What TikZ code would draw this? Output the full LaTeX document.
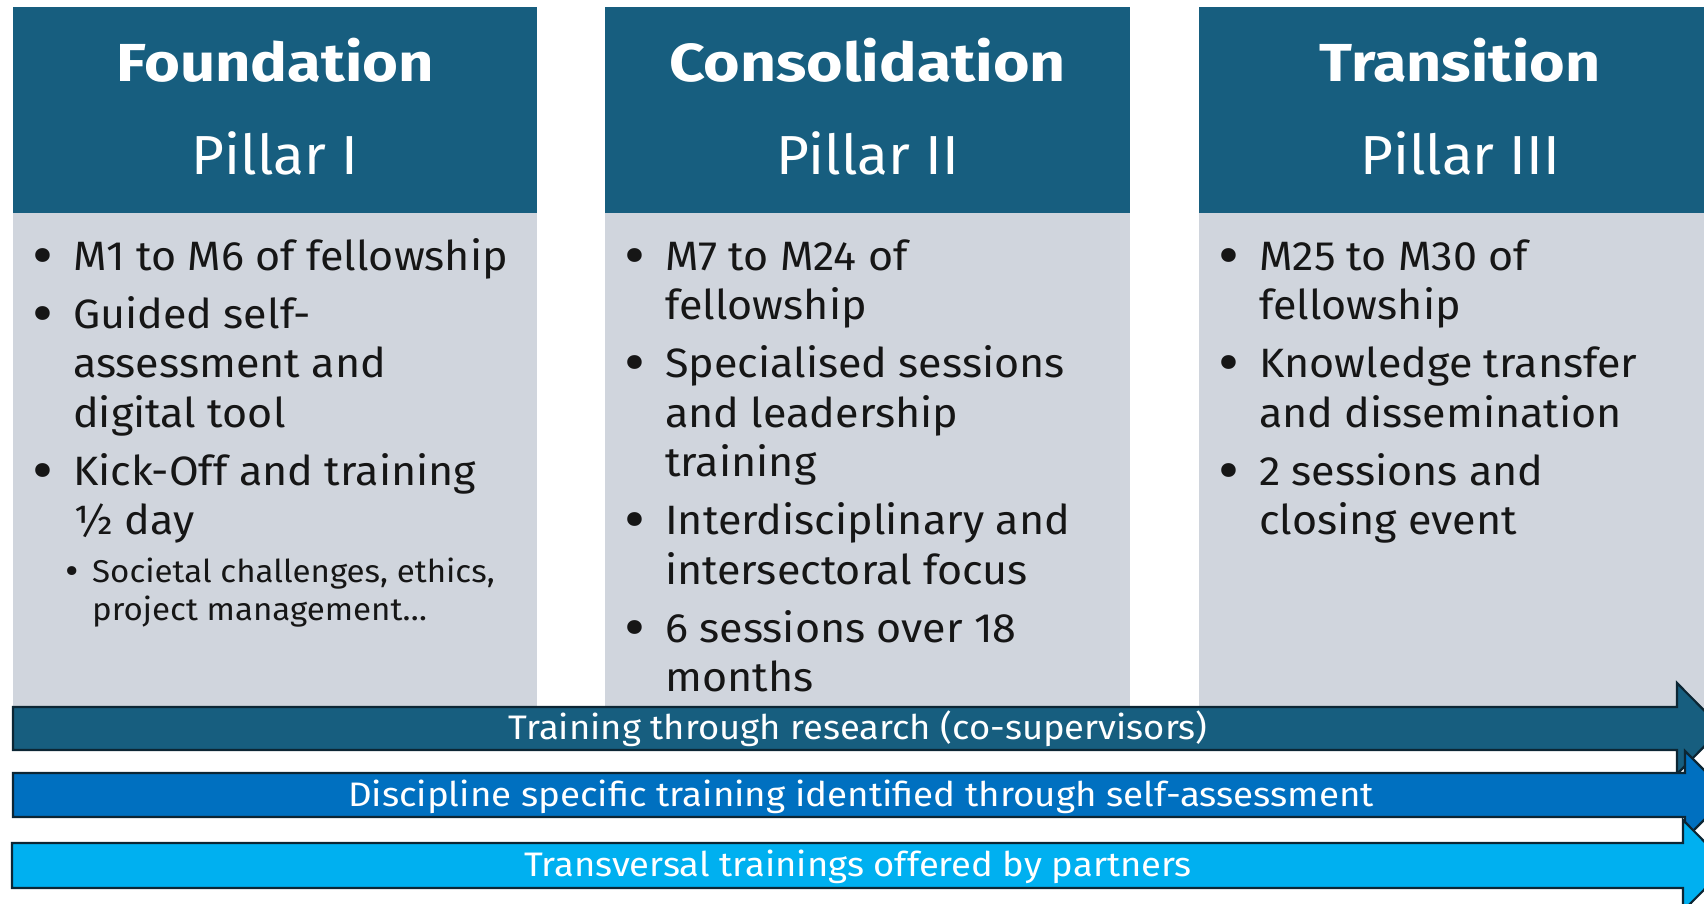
\documentclass[tikz,border=0pt]{standalone}
\usepackage{fontspec}
\setmainfont{Fira Sans}
\newfontfamily\bodyfont{Fira Sans}[FakeStretch=1.05]
\usepackage{graphicx}
\definecolor{hdrc}{RGB}{23,94,127}
\definecolor{bodyc}{RGB}{208,213,221}
\definecolor{arrBc}{RGB}{0,112,192}
\definecolor{arrCc}{RGB}{0,176,240}
\definecolor{edgec}{RGB}{12,38,52}
\definecolor{txtc}{RGB}{22,22,22}
\newcommand{\bigbul}{\raisebox{-6pt}{\scalebox{1.5}{\textbullet}}}
\newcommand{\smallbul}{\raisebox{-2.5pt}{\scalebox{1.25}{\textbullet}}}
\newcommand{\itm}[1]{\par\hangindent=60pt\hangafter=1\noindent\makebox[60pt][c]{\bigbul}#1\par}
\newcommand{\subitm}[1]{{\fontsize{31.5}{38}\selectfont\vspace{9.5pt}\hangindent=79pt\hangafter=1\noindent\hspace*{39pt}\makebox[40pt][c]{\smallbul}#1\par}}
\newcommand{\gap}{\vspace{8.5pt}}
\begin{document}
\begin{tikzpicture}[x=1pt,y=-1pt,
  hdrbox/.style={fill=hdrc, inner sep=0pt, anchor=north west, minimum height=206pt},
  bodybox/.style={fill=bodyc, inner sep=0pt, anchor=north west, minimum height=520pt},
  ttl/.style={anchor=base, text=white, inner sep=0pt, font=\fontsize{53.5}{60}\selectfont\bfseries},
  pil/.style={anchor=base, text=white, inner sep=0pt, font=\fontsize{55}{60}\selectfont},
  bodytxt/.style={anchor=base west, inner sep=0pt, text=txtc, font=\bodyfont\fontsize{41}{49.5}\selectfont},
  arrtxt/.style={anchor=base, inner sep=0pt, text=white, font=\fontsize{34}{40}\selectfont},
  arrshape/.style={draw=edgec, line width=2.2pt, line join=miter}
]
\useasboundingbox (0,0) rectangle (1704,904);
\clip (0,0) rectangle (1704,904);

% column bodies
\node[bodybox, minimum width=524pt] (b1) at (13,213) {};
\node[bodybox, minimum width=525pt] (b2) at (605,213) {};
\node[bodybox, minimum width=540pt] (b3) at (1199,213) {};
% headers
\node[hdrbox, minimum width=524pt] (h1) at (13,7) {};
\node[hdrbox, minimum width=525pt] (h2) at (605,7) {};
\node[hdrbox, minimum width=540pt] (h3) at (1199,7) {};

\node[ttl] (t1) at (275,82) {\scalebox{1.15}[1]{Foundation}};
\node[pil] (p1) at (275,175) {\scalebox{1.03}[1]{Pillar I}};
\node[ttl] (t2) at (867.5,82) {\scalebox{1.17}[1]{Consolidation}};
\node[pil] (p2) at (867.5,175) {\scalebox{1.03}[1]{Pillar II}};
\node[ttl] (t3) at (1460,82) {\scalebox{1.14}[1]{Transition}};
\node[pil] (p3) at (1460,175) {\scalebox{1.03}[1]{Pillar III}};

% body texts
\node[bodytxt] (l1) at (13,270) {\parbox[t]{520pt}{%
\itm{M1 to M6 of fellowship}\gap
\itm{Guided self-\newline assessment and\newline digital tool}\gap
\itm{Kick-Off and training\newline ½ day}
\subitm{Societal challenges, ethics,\newline project management…}}};

\node[bodytxt] (l2) at (605,270) {\parbox[t]{520pt}{%
\itm{M7 to M24 of\newline fellowship}\gap
\itm{Specialised sessions\newline and leadership\newline training}\gap
\itm{Interdisciplinary and\newline intersectoral focus}\gap
\itm{6 sessions over 18\newline months}}};

\node[bodytxt] (l3) at (1199,270) {\parbox[t]{500pt}{%
\itm{M25 to M30 of\newline fellowship}\gap
\itm{Knowledge transfer\newline and dissemination}\gap
\itm{2 sessions and\newline closing event}}};

% arrows
\path[arrshape, fill=hdrc] (13,707) -- (1677,707) -- (1677,683) -- (1722,728.5) -- (1677,774) -- (1677,750) -- (13,750) -- cycle;
\node[arrtxt] (a1) at (858,739.5) {\scalebox{1.07}[1]{Training through research (co-supervisors)}};
\path[arrshape, fill=arrBc] (13,773) -- (1685,773) -- (1685,751) -- (1729,795) -- (1685,839) -- (1685,817) -- (13,817) -- cycle;
\node[arrtxt] (a2) at (861,806) {\scalebox{1.08}[1]{Discipline specific training identified through self-assessment}};
\path[arrshape, fill=arrCc] (12,843) -- (1683,843) -- (1683,820) -- (1728,865.5) -- (1683,911) -- (1683,888) -- (12,888) -- cycle;
\node[arrtxt] (a3) at (858,876.5) {\scalebox{1.07}[1]{Transversal trainings offered by partners}};
\end{tikzpicture}
\end{document}
